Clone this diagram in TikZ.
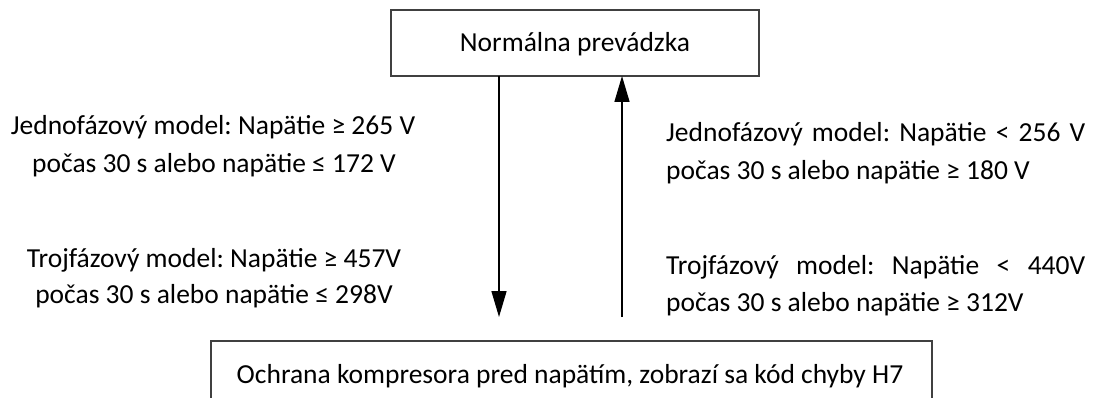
\documentclass[tikz,border=0pt]{standalone}
\usepackage{fontspec}
\setmainfont{Carlito}
\frenchspacing
\usetikzlibrary{arrows.meta}
\begin{document}
\begin{tikzpicture}[x=1pt,y=-1pt,
  box/.style={draw=black!75,line width=1.3pt,fill=none},
  lbl/.style={font=\fontsize{27.5}{32}\selectfont,inner sep=0pt,anchor=base},
  rlbl/.style={font=\fontsize{27.5}{32}\selectfont,inner sep=0pt,anchor=base west},
  flow/.style={line width=1.5pt,-{Triangle[length=26pt,width=15pt]}}]
\useasboundingbox (0,0) rectangle (1094,398);
\begin{scope}
\clip (0,0) rectangle (1094,398);
\draw[box] (391,10) rectangle (759,76);
\node[lbl] (ttext) at (575,52) {Normálna prevádzka};
\draw[box] (211,341) rectangle (932,420);
\node[lbl] (btext) at (570,383) {Ochrana kompresora pred napätím, zobrazí sa kód chyby H7};
\end{scope}
\coordinate (d1) at (499,76);
\coordinate (d2) at (499,317);
\coordinate (u1) at (622,317);
\coordinate (u2) at (622,76);
\draw[flow] (d1) -- (d2);
\draw[flow] (u1) -- (u2);
\node[lbl] (l1) at (213,135) {Jednofázový model: Napätie ≥ 265 V};
\node[lbl] (l2) at (214,172) {počas 30 s alebo napätie ≤ 172 V};
\node[lbl] (l3) at (214,267) {Trojfázový model: Napätie ≥ 457V};
\node[lbl] (l4) at (214,303) {počas 30 s alebo napätie ≤ 298V};
\node[rlbl] (r1) at (666,142) {\makebox[419pt][s]{Jednofázový model: Napätie < 256 V}};
\node[rlbl] (r2) at (666,180) {počas 30 s alebo napätie ≥ 180 V};
\node[rlbl] (r3) at (666,274) {\makebox[419pt][s]{Trojfázový model: Napätie < 440V}};
\node[rlbl] (r4) at (666,311) {počas 30 s alebo napätie ≥ 312V};
\end{tikzpicture}
\end{document}
